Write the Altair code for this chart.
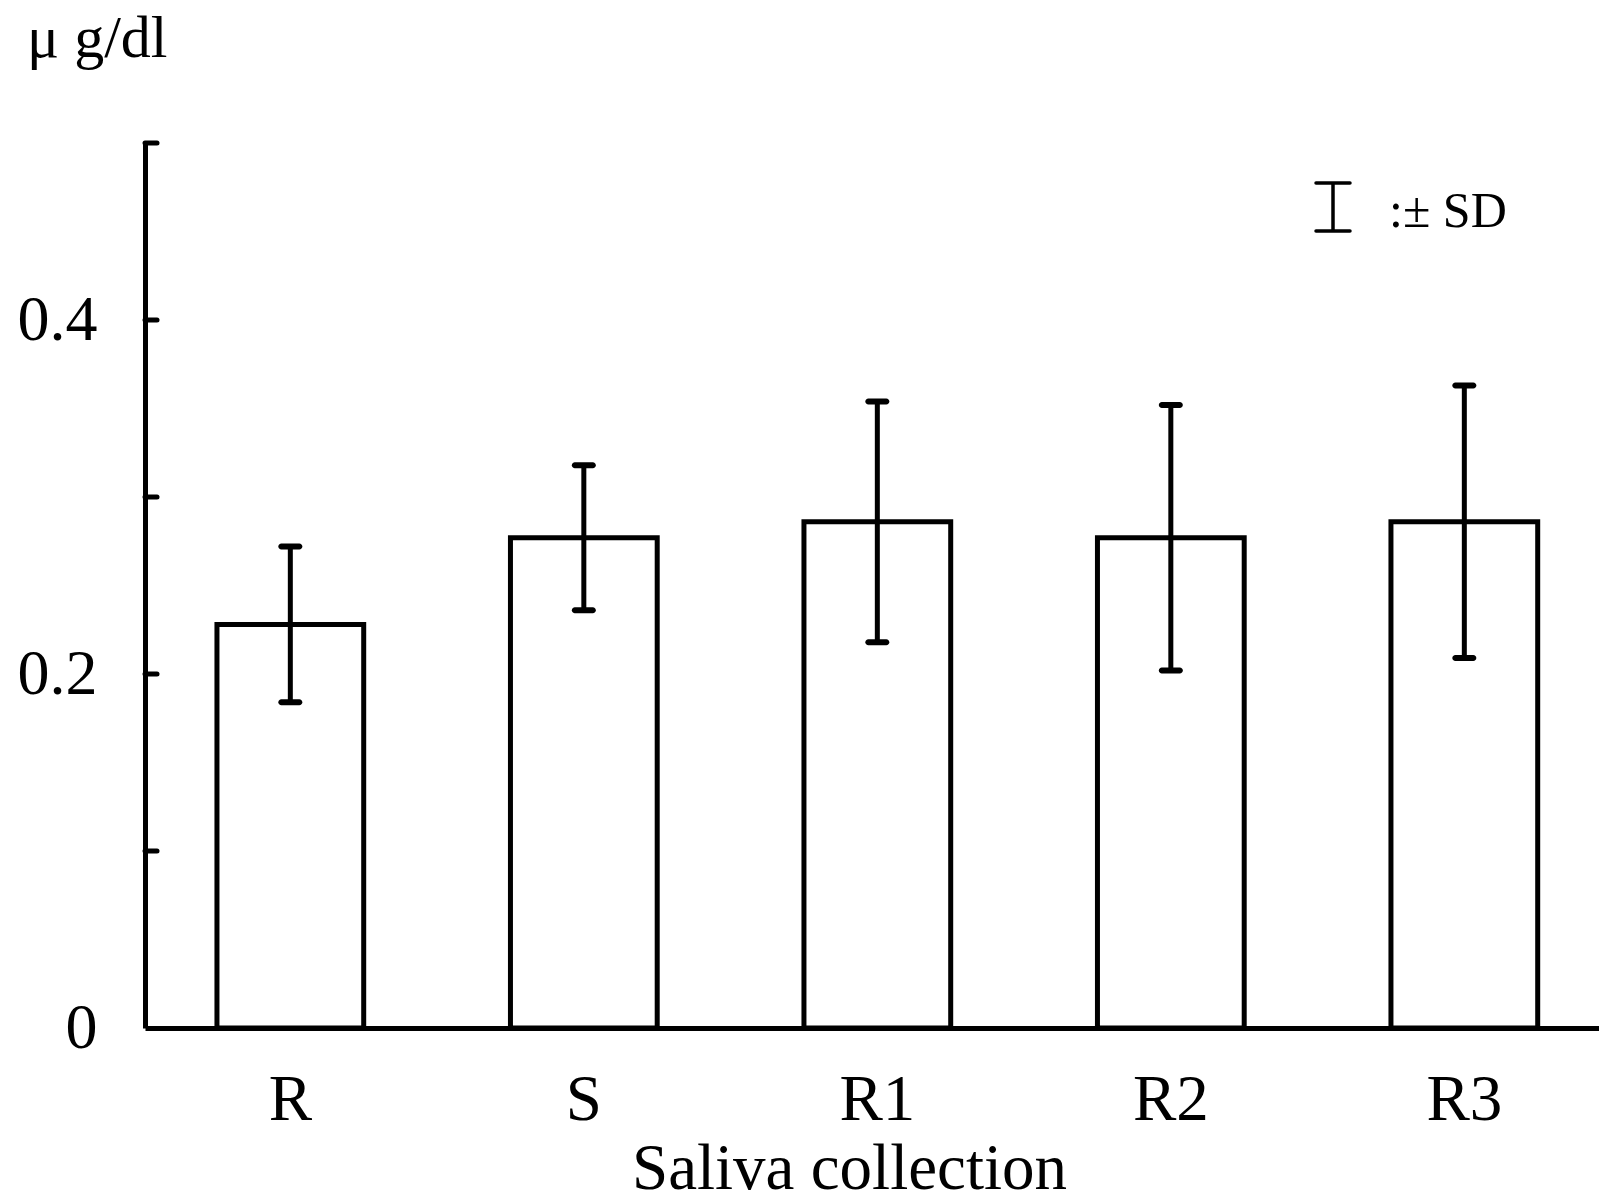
import altair as alt
import pandas as pd

categories = ["R", "S", "R1", "R2", "R3"]
means = [0.228, 0.277, 0.286, 0.277, 0.286]
sds = [0.044, 0.041, 0.068, 0.075, 0.077]
tick_values = [0.0, 0.1, 0.2, 0.3, 0.4, 0.5]
y_title = "μ g/dl"
x_title = "Saliva collection"
legend_text = ":± SD"

FONT = "Liberation Serif"

df = pd.DataFrame({"cat": categories, "mean": means, "sd": sds})
df["lo"] = df["mean"] - df["sd"]
df["hi"] = df["mean"] + df["sd"]

xscale = alt.Scale(domain=categories, paddingInner=0.5, paddingOuter=0.227, align=0.54)
yscale = alt.Scale(domain=[0, 0.5], nice=False, zero=True)

label_expr = ("(round(datum.value*10) % 2 == 0 && datum.value < 0.45) ? "
              "(datum.value == 0 ? '0' : format(datum.value, '.1f')) : ''")

yaxis = alt.Axis(title=None, values=tick_values, ticks=False, tickSize=0,
                 labelPadding=48, labelFontSize=64, labelFont=FONT,
                 labelColor="black", labelExpr=label_expr,
                 labelOverlap=False, labelFlush=False,
                 labelBaseline="middle",
                 domainColor="black", domainWidth=5, grid=False)

base = alt.Chart(df)

bars = base.mark_bar(fill="white", stroke="black", strokeWidth=5).encode(
    x=alt.X("cat:N", scale=xscale, sort=categories,
            axis=alt.Axis(title=x_title, labelAngle=0, ticks=False, tickSize=0,
                          labelPadding=40, labelFontSize=65, labelFont=FONT,
                          labelColor="black", titleFont=FONT, titleFontSize=65,
                          titleFontWeight="normal", titleColor="black",
                          titlePadding=5, domainColor="black", domainWidth=5,
                          titleX=704, grid=False)),
    y=alt.Y("mean:Q", scale=yscale, axis=yaxis),
)

err = base.mark_rule(strokeWidth=5, color="black").encode(
    x=alt.X("cat:N", scale=xscale, sort=categories),
    y=alt.Y("lo:Q", scale=yscale, axis=yaxis),
    y2="hi:Q",
)
cap_hi = base.mark_tick(size=24, thickness=6, color="black", opacity=1,
                        cornerRadius=3).encode(
    x=alt.X("cat:N", scale=xscale, sort=categories),
    y=alt.Y("hi:Q", scale=yscale, axis=yaxis),
)
cap_lo = base.mark_tick(size=24, thickness=6, color="black", opacity=1,
                        cornerRadius=3).encode(
    x=alt.X("cat:N", scale=xscale, sort=categories),
    y=alt.Y("lo:Q", scale=yscale, axis=yaxis),
)

ticks_df = pd.DataFrame({"v": tick_values[1:]})
yticks = alt.Chart(ticks_df).mark_rule(strokeWidth=5, color="black", strokeCap="round").encode(
    y=alt.Y("v:Q", scale=yscale, axis=yaxis),
    x=alt.value(0),
    x2=alt.value(12),
)

one = pd.DataFrame({"t": [y_title], "l": [legend_text]})
ytitle = alt.Chart(one).mark_text(font=FONT, fontSize=60, align="left",
                                  baseline="alphabetic", color="black").encode(
    x=alt.value(-118), y=alt.value(-86), text="t:N")

leg_v = alt.Chart(one).mark_rule(strokeWidth=3.5, color="black").encode(
    x=alt.value(1188), y=alt.value(40), y2=alt.value(88))
leg_t = alt.Chart(one).mark_rule(strokeWidth=3.5, color="black", strokeCap="round").encode(
    x=alt.value(1171), x2=alt.value(1205), y=alt.value(40))
leg_b = alt.Chart(one).mark_rule(strokeWidth=3.5, color="black", strokeCap="round").encode(
    x=alt.value(1171), x2=alt.value(1205), y=alt.value(88))
leg_text = alt.Chart(one).mark_text(font=FONT, fontSize=50, align="left",
                                    baseline="alphabetic", color="black").encode(
    x=alt.value(1244), y=alt.value(84), text="l:N")

chart = alt.layer(bars, err, cap_hi, cap_lo, yticks, ytitle,
                  leg_v, leg_t, leg_b, leg_text).properties(
    width=1454, height=885,
    autosize=alt.AutoSizeParams(type="none"),
    padding={"left": 145, "top": 143, "right": 0, "bottom": 174},
    background="white",
).configure_view(stroke=None)

chart.save("out.html", embed_options={"renderer": "svg", "actions": False})
